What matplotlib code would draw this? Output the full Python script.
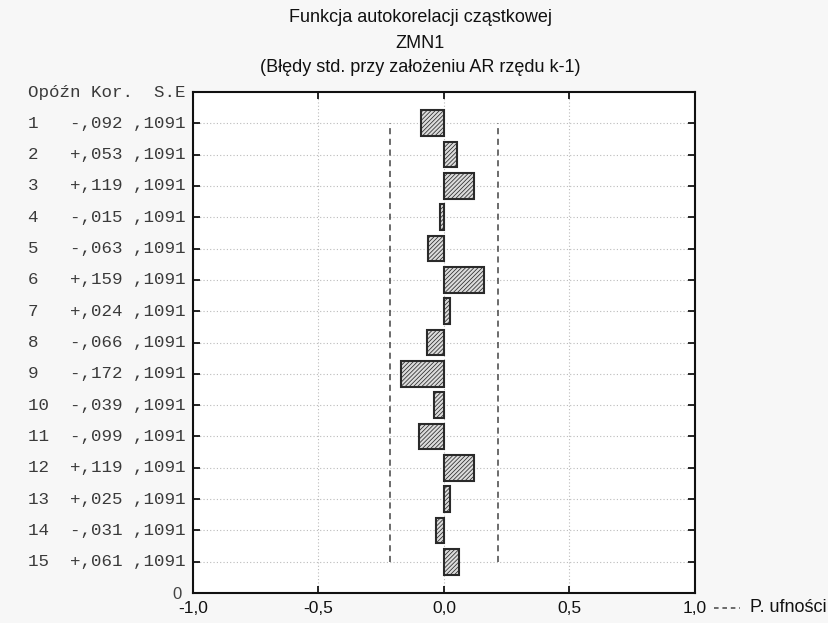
import matplotlib
matplotlib.use("Agg")
import matplotlib.pyplot as plt
from matplotlib.lines import Line2D
import matplotlib.transforms as mtransforms

lags = list(range(1, 16))
kor_labels = ["-,092", "+,053", "+,119", "-,015", "-,063", "+,159", "+,024", "-,066",
              "-,172", "-,039", "-,099", "+,119", "+,025", "-,031", "+,061"]
kor_values = [-0.092, 0.053, 0.119, -0.015, -0.063, 0.159, 0.024, -0.066,
              -0.172, -0.039, -0.099, 0.119, 0.025, -0.031, 0.061]
se_labels = [",1091"] * 15
se_value = 0.1091
conf_limit = 1.96 * se_value
x_ticks = [-1.0, -0.5, 0.0, 0.5, 1.0]
x_tick_labels = ["-1,0", "-0,5", "0,0", "0,5", "1,0"]

title_lines = ["Funkcja autokorelacji cząstkowej", "ZMN1",
               "(Błędy std. przy założeniu AR rzędu k-1)"]
header = "Opóźn Kor.  S.E"
legend_label = "P. ufności"

plt.rcParams['font.family'] = ['Liberation Sans', 'DejaVu Sans']
plt.rcParams['hatch.linewidth'] = 0.55

W, H = 829, 623
fig = plt.figure(figsize=(W / 100, H / 100), dpi=100, facecolor='#f7f7f7')
ax = fig.add_axes([193 / W, 30 / H, 502 / W, 501 / H])
ax.set_facecolor('white')

n = len(lags)
ypos = [n + 1 - k for k in lags]

ax.barh(ypos, kor_values, height=0.82, left=0, color='#dcdcdc',
        edgecolor='#2a2a2a', linewidth=1.5, hatch='////////', zorder=3)

ax.vlines([-conf_limit, conf_limit], ymin=min(ypos), ymax=max(ypos),
          colors='#444444', linestyles=(0, (4, 3)), linewidth=1.1, zorder=2)

ax.set_xlim(-1, 1)
ax.set_ylim(0, n + 1)
ax.set_xticks(x_ticks)
ax.set_xticklabels(x_tick_labels, fontsize=12.5, color='#111111')
ax.set_yticks([0] + ypos)
ax.set_yticklabels(["0"] + [""] * n, fontsize=12, color='#444444')
ax.tick_params(axis='both', direction='in', length=5, width=1.2,
               top=True, right=True, color='black')
ax.tick_params(axis='x', pad=6)
ax.tick_params(axis='y', pad=8)
for sp in ax.spines.values():
    sp.set_linewidth(1.5)
    sp.set_color('#111111')

ax.grid(True, linestyle=(0, (1, 2)), color='#bbbbbb', linewidth=0.8, zorder=0)
ax.set_axisbelow(True)

# row labels
trans = mtransforms.blended_transform_factory(fig.transFigure, ax.transData)
xtext = 28 / W
mono = ['Liberation Mono', 'DejaVu Sans Mono']
for k, yp, kl, sl in zip(lags, ypos, kor_labels, se_labels):
    s = f"{k:<4}{kl} {sl}"
    ax.text(xtext, yp, s, transform=trans, ha='left', va='center',
            family=mono, fontsize=12.6, color='#3a3a3a')
ax.text(xtext, n + 1, header, transform=trans, ha='left', va='center',
        family=mono, fontsize=12.6, color='#3a3a3a')

# title
for i, line in enumerate(title_lines):
    fig.text(0.5 + 6 / W, 1 - (18 + 25 * i) / H, line, ha='center', va='center',
             fontsize=13, color='#111111')

# legend
fig.add_artist(Line2D([714 / W, 740 / W], [1 - 608 / H, 1 - 608 / H],
                      color='#444444', linestyle=(0, (3, 2.5)), linewidth=1.1))
fig.text(750 / W, 1 - 608 / H, legend_label, ha='left', va='center',
         fontsize=13, color='#111111')

fig.savefig("out.png", dpi=100, facecolor=fig.get_facecolor())
